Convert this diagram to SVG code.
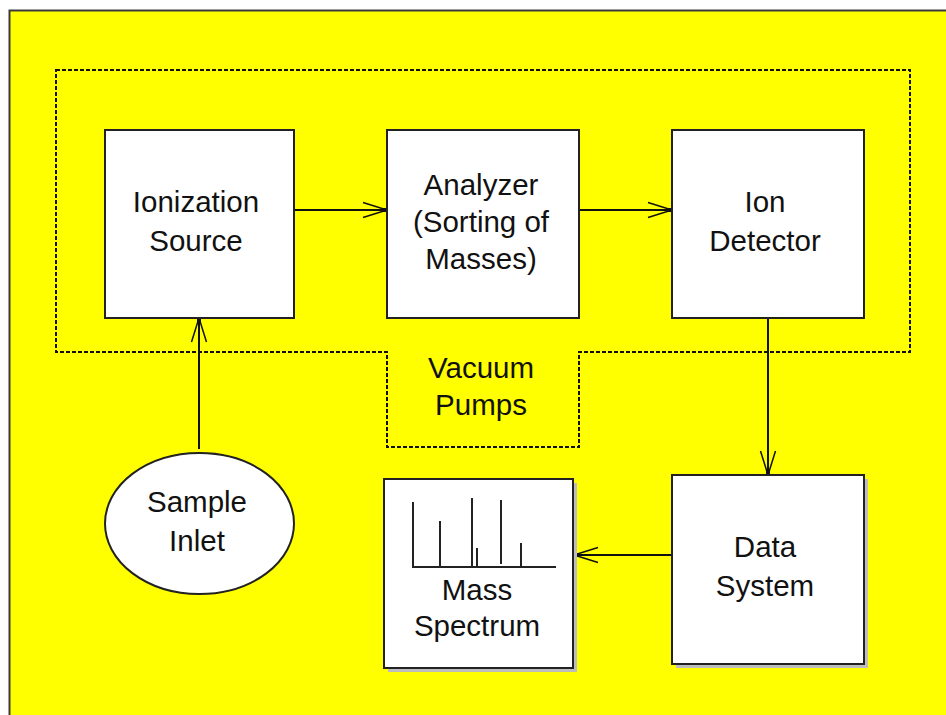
<svg xmlns="http://www.w3.org/2000/svg" width="946" height="715" viewBox="0 0 946 715">
  <style>
    .box { fill: #ffffff; stroke: #222222; stroke-width: 2; }
    .shadow { fill: #bdbdbd; }
    .label { font-family: "Liberation Sans", Arial, sans-serif; font-size: 29.5px; fill: #111111; text-anchor: middle; }
    .wire { stroke: #111111; stroke-width: 2; fill: none; }
    .vac { stroke: #111111; stroke-width: 2; fill: none; stroke-dasharray: 4 2; }
    .spec { stroke: #222222; stroke-width: 2; fill: none; }
  </style>
  <defs>
    <marker id="vee" markerUnits="userSpaceOnUse" markerWidth="40" markerHeight="24" viewBox="-28 -12 32 24" refX="0" refY="0" orient="auto">
      <path d="M-24,-7.5 L0,0 L-24,7.5" fill="none" stroke="#111111" stroke-width="1.5"/>
      <rect x="-4" y="-2" width="4" height="4" fill="#111111"/>
    </marker>
  </defs>

  <!-- page background -->
  <rect x="0" y="0" width="946" height="715" fill="#ffffff"/>
  <rect x="9.5" y="10.5" width="945" height="710" fill="#ffff00" stroke="#3a3a3a" stroke-width="2"/>

  <!-- vacuum enclosure outline -->
  <g id="vacuum">
    <path class="vac" d="M56,70 H910 V352 H579 V447 H387 V352 H56 Z"/>
    <text class="label" x="481" y="378">Vacuum</text>
    <text class="label" x="481" y="415">Pumps</text>
  </g>

  <g id="connectors">
    <line class="wire" x1="294" y1="210" x2="387" y2="210" marker-end="url(#vee)"/>
    <line class="wire" x1="579" y1="210" x2="672" y2="210" marker-end="url(#vee)"/>
    <line class="wire" x1="199" y1="449" x2="199" y2="318" marker-end="url(#vee)"/>
    <line class="wire" x1="768" y1="318" x2="768" y2="475" marker-end="url(#vee)"/>
    <line class="wire" x1="672" y1="555" x2="574" y2="555" marker-end="url(#vee)"/>
  </g>

  <g id="ionization-source">
    <rect class="box" x="105" y="130" width="189" height="188"/>
    <text class="label" x="196" y="212">Ionization</text>
    <text class="label" x="196" y="251">Source</text>
  </g>

  <g id="analyzer">
    <rect class="box" x="387" y="130" width="192" height="188"/>
    <text class="label" x="481" y="195">Analyzer</text>
    <text class="label" x="481" y="232">(Sorting of</text>
    <text class="label" x="481" y="269">Masses)</text>
  </g>

  <g id="ion-detector">
    <rect class="box" x="672" y="130" width="192" height="188"/>
    <text class="label" x="765" y="212">Ion</text>
    <text class="label" x="765" y="251">Detector</text>
  </g>

  <g id="sample-inlet">
    <ellipse cx="199.5" cy="523.5" rx="94.5" ry="70.5" fill="#ffffff" stroke="#222222" stroke-width="2"/>
    <text class="label" x="197" y="512">Sample</text>
    <text class="label" x="197" y="551">Inlet</text>
  </g>

  <g id="data-system">
    <rect class="shadow" x="676" y="479" width="192" height="189"/>
    <rect class="box" x="672" y="475" width="192" height="189"/>
    <text class="label" x="765" y="557">Data</text>
    <text class="label" x="765" y="596">System</text>
  </g>

  <g id="mass-spectrum">
    <rect class="shadow" x="388" y="483" width="189" height="189"/>
    <rect class="box" x="384" y="479" width="189" height="189"/>
    <!-- stick spectrum -->
    <path class="spec" d="M413,502 V567 H556 M440,521 V567 M472,498 V567 M477,548 V567 M501,500 V564 M521,543 V567"/>
    <text class="label" x="477" y="600">Mass</text>
    <text class="label" x="477" y="636">Spectrum</text>
  </g>
</svg>
